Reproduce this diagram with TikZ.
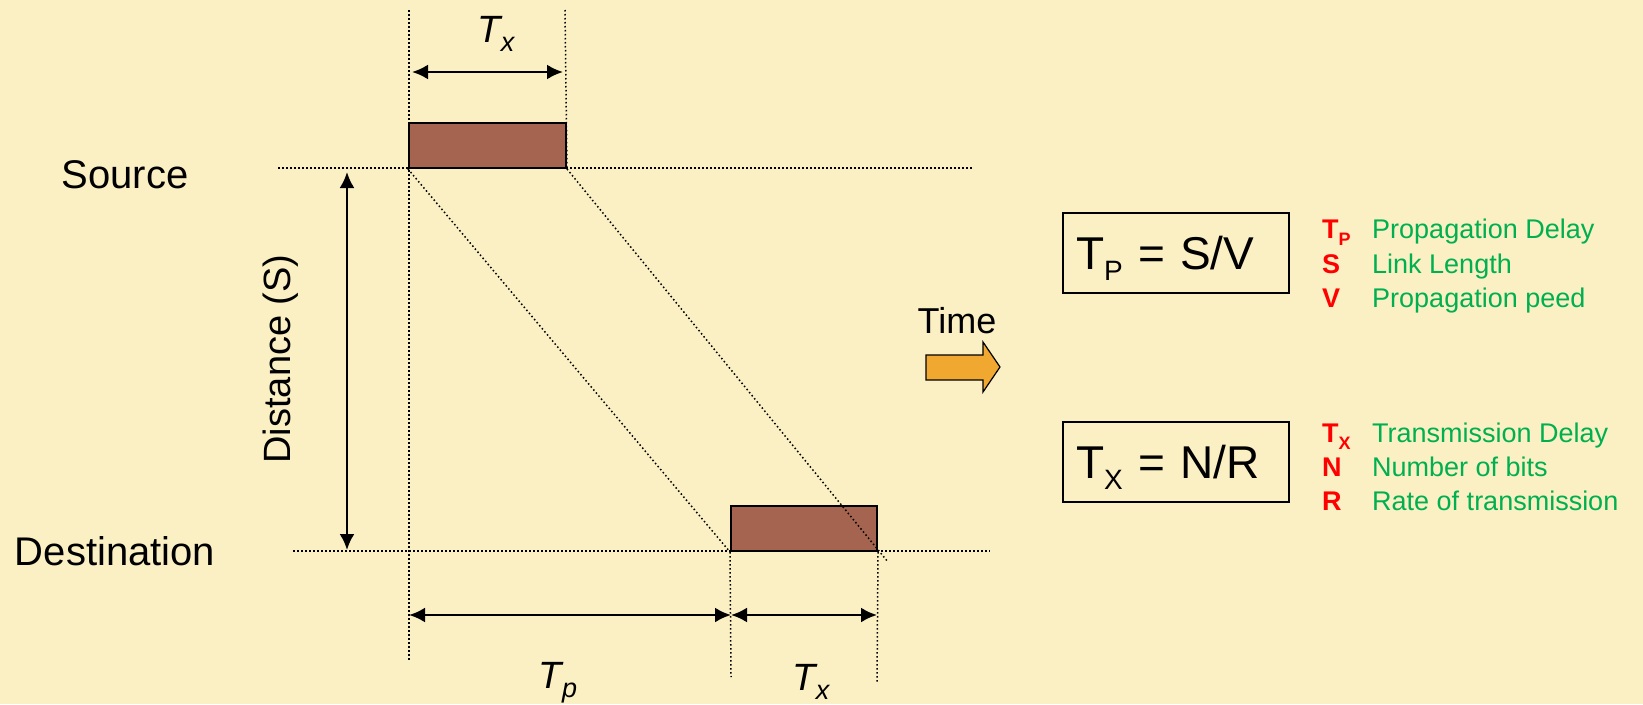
\documentclass[tikz,border=0pt]{standalone}
\usepackage{fontspec}
\setmainfont{Liberation Sans}
\usetikzlibrary{arrows.meta}

\definecolor{bgyellow}{HTML}{FBEFC4}
\definecolor{pktbrown}{HTML}{A4644F}
\definecolor{timeorange}{HTML}{F0A830}
\definecolor{keyred}{HTML}{FF0000}
\definecolor{txtgreen}{HTML}{00B050}

\newcommand*{\ysrc}{168}
\newcommand*{\ydst}{551}
\newcommand*{\yarr}{615}
\newcommand*{\fsz}[1]{\fontsize{#1}{#1}\selectfont}
\newcommand*{\lowsub}[3]{\raisebox{-#1pt}{\fsz{#2}#3}}

\begin{document}
\begin{tikzpicture}
[
	x=1pt, y=-1pt,
	>={Latex[length=16pt,width=15pt]},
	guide/.style={line width=1.5pt,dash pattern=on 1.5pt off 2.5pt},
	dim/.style={<->,line width=2.5pt},
	packet/.style={draw,line width=2pt,fill=pktbrown,inner sep=0pt,minimum height=45pt},
	lbl/.style={font=\fsz{40},anchor=base,inner sep=0pt},
	dimlbl/.style={font=\fsz{38}\itshape,anchor=base,inner sep=0pt},
	formula/.style={draw,line width=1.5pt,minimum width=226pt,minimum height=80pt,
		text width=200pt,align=left,inner xsep=13pt,text height=33pt,text depth=0pt,font=\fsz{46}},
	key/.style={font=\fsz{27}\bfseries,text=keyred,anchor=base west,inner sep=0pt},
	meaning/.style={font=\fsz{27},text=txtgreen,anchor=base west,inner sep=0pt}
]

	% background
	\fill[bgyellow] (0,0) rectangle (1643,704);
	\useasboundingbox (0,0) rectangle (1643,704);

	% packets
	\node[packet,minimum width=157pt] (srcpkt) at (487.5,145.5) {};
	\node[packet,minimum width=146pt] (dstpkt) at (804,528.5) {};

	% source and destination lines
	\coordinate (srcl) at (278,\ysrc);
	\coordinate (srcr) at (974,\ysrc);
	\coordinate (dstl) at (293,\ydst);
	\coordinate (dstr) at (990,\ydst);
	\draw[guide] (srcl) -- (srcr);
	\draw[guide] (dstl) -- (dstr);

	% vertical guides
	\coordinate (g1top) at (409,10);
	\coordinate (g1bot) at (409,662);
	\coordinate (g2top) at (565,10);
	\coordinate (g3bot) at (731,677);
	\coordinate (g4bot) at (877,683);
	\draw[guide] (g1top) -- (g1bot);
	\draw[guide] (g2top) -- (srcpkt.south east);
	\draw[guide] (dstpkt.south west) -- (g3bot);
	\draw[guide] (dstpkt.south east) -- (g4bot);

	% signal travel
	\coordinate (diagend) at (888,562);
	\draw[guide] (srcpkt.south west) -- (dstpkt.south west);
	\draw[guide] (srcpkt.south east) -- (diagend);

	% dimensions
	\coordinate (txl) at (412,72);
	\coordinate (txr) at (563,72);
	\coordinate (dtop) at (347,172);
	\coordinate (dbot) at (347,550);
	\coordinate (tpl) at (409,\yarr);
	\coordinate (tpm) at (731,\yarr);
	\coordinate (txe) at (877,\yarr);
	\draw[dim] (txl) -- (txr);
	\draw[dim] (dtop) -- (dbot);
	\draw[dim] (tpl) -- (tpm);
	\draw[dim] (tpm) -- (txe);

	\node[dimlbl] (txtop) at (496,42) {T\lowsub{9}{27}{x}};
	\node[dimlbl] (tpbot) at (558,688) {T\lowsub{9}{27}{p}};
	\node[dimlbl] (txbot) at (811,690) {T\lowsub{9}{27}{x}};

	% labels
	\node[lbl] (src) at (125,188) {Source};
	\node[lbl] (dst) at (115,565) {Destination};
	\node[lbl,font=\fsz{38},rotate=90] (dist) at (290,359) {Distance (S)};

	% time
	\node[lbl,font=\fsz{36}] (time) at (957,333) {Time};
	\draw[line width=1.2pt,fill=timeorange] (926,355) -- (983,355) -- (983,342) -- (1000,367)
		-- (983,392) -- (983,380) -- (926,380) -- cycle;

	% formulas
	\node[formula] (tpbox) at (1176,253) {T\lowsub{11}{28}{P} = S/V};
	\node[formula] (txbox) at (1176,462) {T\lowsub{11}{28}{X} = N/R};

	\node[key] (k1) at (1322,238) {T\lowsub{7}{18}{P}};
	\node[meaning] (m1) at (1372,238) {Propagation Delay};
	\node[key] (k2) at (1322,273) {S};
	\node[meaning] (m2) at (1372,273) {Link Length};
	\node[key] (k3) at (1322,307) {V};
	\node[meaning] (m3) at (1372,307) {Propagation peed};

	\node[key] (k4) at (1322,442) {T\lowsub{7}{18}{X}};
	\node[meaning] (m4) at (1372,442) {Transmission Delay};
	\node[key] (k5) at (1322,476) {N};
	\node[meaning] (m5) at (1372,476) {Number of bits};
	\node[key] (k6) at (1322,510) {R};
	\node[meaning] (m6) at (1372,510) {Rate of transmission};

\end{tikzpicture}
\end{document}
